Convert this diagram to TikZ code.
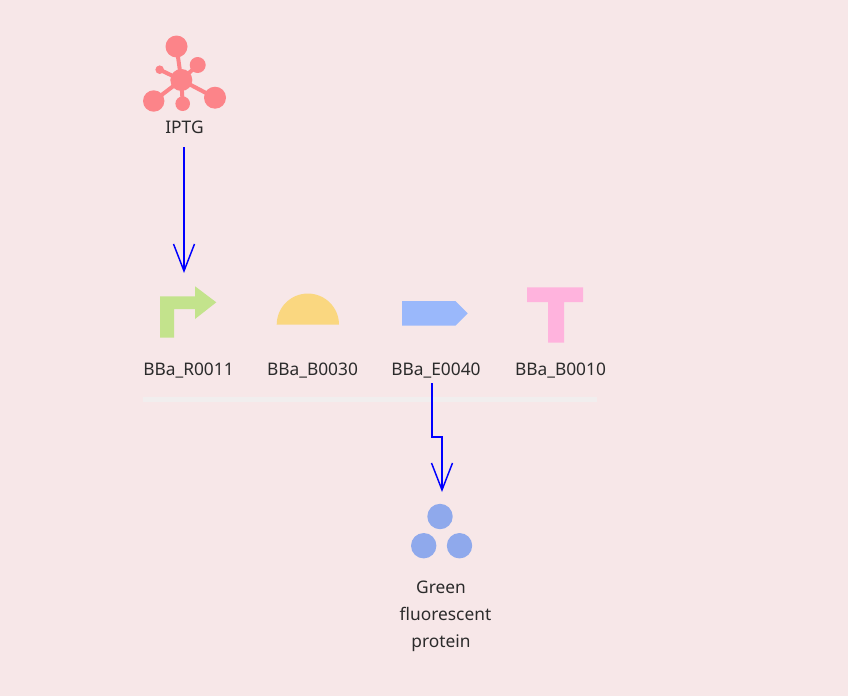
\documentclass[tikz,border=0pt]{standalone}
\usepackage{fontspec}
\setmainfont{Noto Sans}
\usetikzlibrary{arrows.meta}
\definecolor{bgpink}{HTML}{F7E7E8}
\definecolor{molred}{HTML}{FC8489}
\definecolor{promgreen}{HTML}{C3E38C}
\definecolor{rbsyellow}{HTML}{FAD780}
\definecolor{cdsblue}{HTML}{9AB8FB}
\definecolor{termpink}{HTML}{FFB3DD}
\definecolor{protblue}{HTML}{8FA9EC}
\definecolor{txtgray}{HTML}{2B2B2B}
\definecolor{barwhite}{HTML}{F1EEEE}
\tikzset{lbl/.style={text=txtgray, inner sep=0pt, align=center, font=\fontsize{13}{20.25}\selectfont},
    link/.style={draw=blue, line width=0.85pt, arrows={-Straight Barb[length=20.25pt, width=15.75pt, line width=1.1pt]}}}

\begin{document}
\begin{tikzpicture}[x=0.75pt,y=-0.75pt]
    \fill[bgpink] (0,0) rectangle (848,696);
    \useasboundingbox (0,0) rectangle (848,696);

    % inducer
    \draw[molred, line width=3pt] (181.3,80) -- (176.5,46.5) (181.3,80) -- (197.7,65) (181.3,80) -- (159.7,69.7)
        (181.3,80) -- (153.7,101) (181.3,80) -- (182.7,103.7) (181.3,80) -- (215,97.7);
    \foreach \x/\y/\r in {176.5/46.5/11,197.7/65/8,159.7/69.7/4.3,181.3/80/11,153.7/101/10.7,182.7/103.7/7.3,215/97.7/11}{
        \fill[molred] (\x,\y) circle[radius=\r];
    }
    \node[lbl] (iptg) at (184.5,127) {IPTG};

    % parts
    \fill[promgreen] (160,337.7) -- (160,296.3) -- (195,296.3) -- (195,286.3) -- (216.3,302.3) -- (195,319) -- (195,309) -- (174,309) -- (174,337.7) -- cycle;
    \fill[rbsyellow] (276.7,324.7) arc[start angle=180, end angle=360, radius=31.15] -- cycle;
    \fill[cdsblue] (402,301) -- (455.3,301) -- (467.7,313.3) -- (455.3,325.7) -- (402,325.7) -- cycle;
    \fill[termpink] (527,287.3) -- (583,287.3) -- (583,302) -- (564,302) -- (564,342.7) -- (548,342.7) -- (548,302) -- (527,302) -- cycle;

    \foreach \t/\x[count=\n] in {BBa\_R0011/188.5,BBa\_B0030/312.5,BBa\_E0040/436,BBa\_B0010/560.5}{
        \node[lbl] (part\n) at (\x,371) {\t};
    }
    \fill[barwhite] (143,397) rectangle (597,402);

    % product
    \foreach \x/\y in {440/516.5,423.7/545.7,459.5/545.7}{
        \fill[protblue] (\x,\y) circle[radius=12.7];
    }
    \node[lbl] (gfp) at (441,616.5) {Green\\\hspace*{6.75pt}fluorescent\\protein};

    % links
    \coordinate (iptgout) at (184,147);
    \coordinate (promin) at (184,273);
    \coordinate (cdsout) at (432,383);
    \coordinate (gfpin) at (442,492);
    \draw[link] (iptgout) -- (promin);
    \draw[link] (cdsout) -- (432,437) -- (442,437) -- (gfpin);
\end{tikzpicture}
\end{document}
